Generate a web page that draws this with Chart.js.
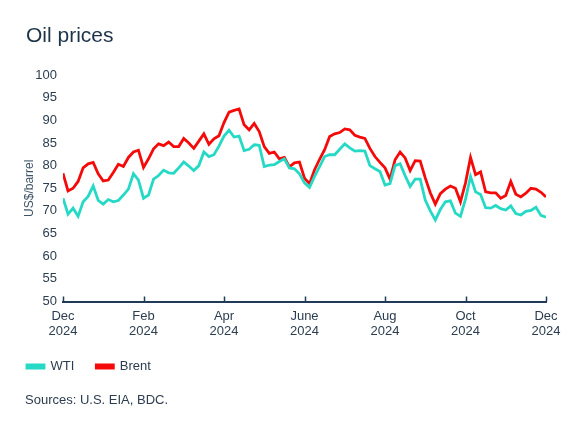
<!DOCTYPE html>
<html>
<head>
<meta charset="utf-8">
<script src="https://cdn.jsdelivr.net/npm/chart.js@4.4.1/dist/chart.umd.min.js"></script>
<style>
  body { margin: 0; background: #fff; }
  #wrap { position: relative; width: 575px; height: 431px; font-family: "Liberation Sans", Arial, sans-serif; }
  #title { position: absolute; left: 26px; top: 24px; font-size: 21px; line-height: 21px; color: #1d3448; }
  #source { position: absolute; left: 25px; top: 393px; font-size: 13px; line-height: 13px; color: #2b3d4f; }
</style>
</head>
<body>
<div id="wrap">
  <canvas id="oilChart" width="575" height="431"></canvas>
  <div id="title">Oil prices</div>
  <div id="source">Sources: U.S. EIA, BDC.</div>
</div>
<script>
// Oil prices, Dec to Dec, roughly every 4 days (8 obs per month)
var tickLabels = [['Dec', '2024'], ['Feb', '2024'], ['Apr', '2024'], ['June', '2024'], ['Aug', '2024'], ['Oct', '2024'], ['Dec', '2024']];

var wti = [
  72.8, 69.3, 70.6, 68.8, 72.0, 73.2, 75.5, 72.3, 71.5, 72.5,
  72.0, 72.3, 73.5, 74.8, 78.2, 76.8, 72.8, 73.5, 77.0, 77.8,
  79.0, 78.4, 78.3, 79.5, 80.8, 79.9, 78.9, 80.0, 83.0, 82.0,
  82.4, 84.3, 86.5, 87.8, 86.3, 86.5, 83.3, 83.6, 84.6, 84.5,
  79.8, 80.1, 80.2, 80.9, 81.5, 79.5, 79.3, 78.2, 76.2, 75.2,
  77.6, 79.8, 82.0, 82.4, 82.4, 83.6, 84.8, 83.9, 83.2, 83.3,
  83.2, 80.0, 79.3, 78.7, 75.7, 76.0, 80.0, 80.4, 77.8, 75.4,
  77.0, 77.0, 72.4, 70.0, 68.0, 70.3, 72.0, 72.2, 69.5, 68.8,
  72.6, 77.6, 74.2, 73.6, 70.7, 70.6, 71.2, 70.5, 70.2, 71.1,
  69.4, 69.1, 69.9, 70.1, 70.8, 69.0, 68.6
];

var brent = [
  78.3, 74.4, 75.0, 76.5, 79.5, 80.4, 80.7, 78.2, 76.6, 76.8,
  78.5, 80.3, 79.8, 81.8, 83.0, 83.4, 79.6, 81.5, 83.7, 84.8,
  84.4, 85.2, 84.2, 84.2, 86.0, 85.0, 83.8, 85.4, 87.0, 84.7,
  85.9, 86.6, 89.5, 91.8, 92.2, 92.5, 89.0, 87.9, 89.3, 87.5,
  84.2, 82.7, 83.0, 81.5, 81.8, 79.7, 80.6, 80.8, 77.2, 76.0,
  79.1, 81.4, 83.5, 86.4, 87.0, 87.3, 88.1, 87.9, 86.7, 86.3,
  86.0, 83.8, 82.0, 80.7, 79.5, 77.0, 81.3, 83.0, 81.7, 78.9,
  81.1, 81.0, 77.3, 74.0, 71.5, 73.8, 74.8, 75.5, 75.0, 72.0,
  76.2, 81.8, 78.0, 78.6, 74.2, 74.0, 74.0, 72.8, 73.4, 76.5,
  73.7, 73.1, 73.9, 75.0, 74.8, 74.1, 73.1
];

var TealColor = '#25d9c5';
var RedColor = '#f50a0a';
var AxisColor = '#1f3b57';
var TextColor = '#2b3d4f';

// small tick marks pointing up from the x axis
var upTicks = {
  id: 'upTicks',
  afterDraw: function (chart) {
    var x = chart.scales.x;
    var c = chart.ctx;
    c.save();
    c.strokeStyle = AxisColor;
    c.lineWidth = 1.5;
    x.ticks.forEach(function (t) {
      var px = Math.round(x.getPixelForValue(t.value)) + 0.5;
      c.beginPath();
      c.moveTo(px, x.top);
      c.lineTo(px, x.top - 5);
      c.stroke();
    });
    c.restore();
  }
};

Chart.defaults.font.family = '"Liberation Sans", Arial, sans-serif';
Chart.defaults.color = TextColor;

var ctx = document.getElementById('oilChart').getContext('2d');
var oilChart = new Chart(ctx, {
  type: 'line',
  data: {
    datasets: [{
      label: 'WTI',
      data: wti.map(function (v, i) { return {x: i, y: v}; }),
      borderColor: TealColor,
      backgroundColor: TealColor,
      borderWidth: 2.8,
      pointRadius: 0,
      tension: 0,
    }, {
      label: 'Brent',
      data: brent.map(function (v, i) { return {x: i, y: v}; }),
      borderColor: RedColor,
      backgroundColor: RedColor,
      borderWidth: 2.8,
      pointRadius: 0,
      tension: 0,
    }],
  },
  options: {
    responsive: false,
    animation: false,
    layout: { padding: { top: 75, left: 5, right: 29, bottom: 48 } },
    scales: {
      x: {
        type: 'linear',
        min: 0,
        max: 96,
        grid: { display: false, drawTicks: false },
        border: { display: true, color: AxisColor, width: 2 },
        ticks: {
          stepSize: 16,
          autoSkip: false,
          maxRotation: 0,
          padding: 7,
          color: TextColor,
          font: { size: 13, lineHeight: 1.15 },
          callback: function (v) { return tickLabels[v / 16]; },
        },
        afterFit: function (scale) { scale.height = 36.5; },
      },
      y: {
        min: 50,
        max: 100,
        grid: { display: false, drawTicks: false },
        border: { display: false },
        ticks: { stepSize: 5, padding: 6, color: TextColor, font: { size: 13 } },
        title: {
          display: true,
          text: 'US$/barrel',
          color: '#3e5466',
          font: { size: 12, lineHeight: 1 },
          padding: { top: 19, bottom: 0 },
        },
        afterFit: function (scale) { scale.width = 58; },
      },
    },
    plugins: {
      legend: {
        position: 'bottom',
        align: 'start',
        labels: {
          boxWidth: 17,
          boxHeight: 3,
          padding: 22,
          color: TextColor,
          font: { size: 13 },
        },
      },
      tooltip: { enabled: false },
    },
  },
  plugins: [upTicks],
});
</script>
</body>
</html>
